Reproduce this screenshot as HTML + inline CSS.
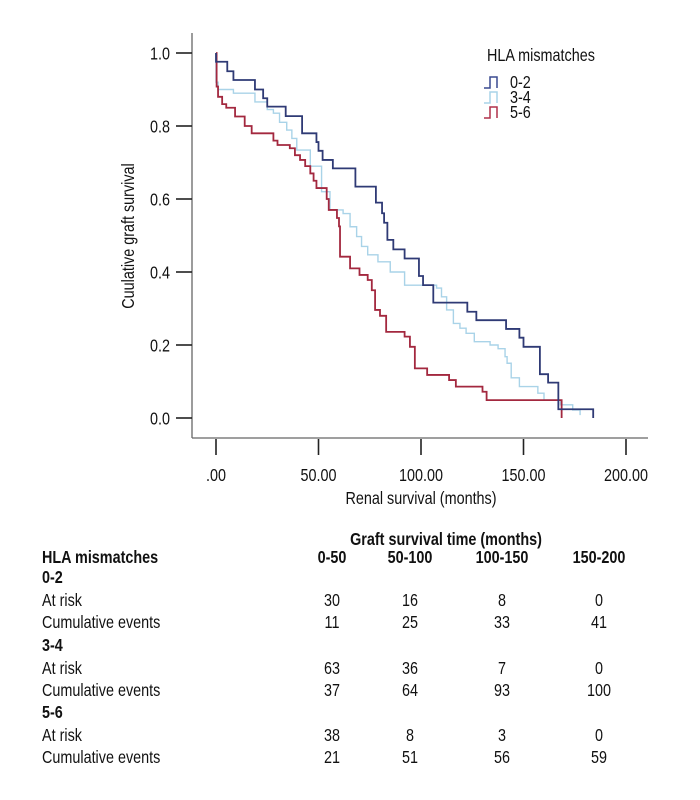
<!DOCTYPE html>
<html><head><meta charset="utf-8"><style>
html,body{margin:0;padding:0;background:#fff;}
svg{display:block;font-family:"Liberation Sans",sans-serif;}
</style></head><body>
<svg id="chart" width="700" height="800" viewBox="0 0 700 800" xmlns="http://www.w3.org/2000/svg">
<g id="axes"></g>
<g id="curves"></g>
<g id="legend">
  <text transform="translate(487,61) scale(0.8,1)" font-size="18" fill="#111">HLA mismatches</text>
  <path d="M484,88 H490 V77 H497 V88" fill="none" stroke="#3a4a90" stroke-width="1.5"/>
  <text transform="translate(510,88) scale(0.8,1)" font-size="18" fill="#111">0-2</text>
  <path d="M484,103 H490 V92 H497 V103" fill="none" stroke="#a9d3e8" stroke-width="1.5"/>
  <text transform="translate(510,103) scale(0.8,1)" font-size="18" fill="#111">3-4</text>
  <path d="M484,118 H490 V107 H497 V118" fill="none" stroke="#b0304a" stroke-width="1.5"/>
  <text transform="translate(510,118) scale(0.8,1)" font-size="18" fill="#111">5-6</text>
</g>
<g id="table" font-size="18" fill="#111"></g>
</svg>
<script>
const xTicks = [0, 50, 100, 150, 200];
const xTickLabels = [".00", "50.00", "100.00", "150.00", "200.00"];
const yTicks = [0, 0.2, 0.4, 0.6, 0.8, 1.0];
const yTickLabels = ["0.0", "0.2", "0.4", "0.6", "0.8", "1.0"];
const blueTimes = [0,5.5,8.5,19,23,25,34,42,49,50,52,57,68,78,81,82,83.6,86.5,92,99,101,106,122.6,127,141.5,148,150,158,162,167,184];
const blueSurv  = [0.976,0.95,0.926,0.90,0.876,0.853,0.827,0.78,0.756,0.732,0.707,0.684,0.634,0.59,0.561,0.535,0.488,0.462,0.437,0.389,0.364,0.316,0.291,0.268,0.244,0.22,0.195,0.12,0.097,0.024,0];
const lightTimes = [0,1,8.5,19,25,28,31,34.5,37,39.4,46,51.5,55.6,62,65.4,68.6,71,74,79,85,92,107.6,110,112.5,115.8,119,122,126,133.7,137.6,141,142,144,148,157,160,168,174,177.6];
const lightSurv  = [0.92,0.90,0.89,0.866,0.845,0.835,0.81,0.789,0.766,0.734,0.69,0.62,0.57,0.56,0.524,0.497,0.47,0.447,0.428,0.40,0.364,0.356,0.332,0.296,0.259,0.246,0.232,0.209,0.2,0.19,0.168,0.15,0.11,0.086,0.068,0.049,0.036,0.022,0.008];
const redTimes = [0,0.3,1,3,5,9.3,14,17.4,28,30,36,38.5,41,43.5,46,47.6,49,54,55,59,60,60.5,65.4,70,74,76,77.6,80,83,92,94.6,97,103,113.7,117,130,132,168.6];
const redSurv  = [1.0,0.908,0.88,0.86,0.85,0.826,0.80,0.78,0.76,0.748,0.739,0.72,0.707,0.69,0.67,0.65,0.63,0.60,0.57,0.548,0.525,0.442,0.41,0.392,0.378,0.35,0.296,0.28,0.236,0.223,0.195,0.136,0.118,0.104,0.086,0.072,0.049,0];

const NS = "http://www.w3.org/2000/svg";
const X0 = 216, XS = 2.05, Y0 = 418, YS = 365;
function xScale(t){ return X0 + t * XS; }
function yScale(s){ return Y0 - s * YS; }

const axes = document.getElementById('axes');
let yAxis = document.createElementNS(NS, 'line');


yAxis.setAttribute('x1', 192); yAxis.setAttribute('x2', 192);
yAxis.setAttribute('y1', 33); yAxis.setAttribute('y2', 438);
yAxis.setAttribute('stroke', '#666'); yAxis.setAttribute('stroke-width', '1.3');
axes.appendChild(yAxis);
let xAxis = document.createElementNS(NS, 'line');


xAxis.setAttribute('x1', 192); xAxis.setAttribute('x2', 648);
xAxis.setAttribute('y1', 438); xAxis.setAttribute('y2', 438);
xAxis.setAttribute('stroke', '#666'); xAxis.setAttribute('stroke-width', '1.3');
axes.appendChild(xAxis);

yTicks.forEach((v, i) => {
  const y = yScale(v);
  const tk = document.createElementNS(NS, 'line');
  
  
  tk.setAttribute('x1', 176); tk.setAttribute('x2', 192);
  tk.setAttribute('y1', y); tk.setAttribute('y2', y);
  tk.setAttribute('stroke', '#222'); tk.setAttribute('stroke-width', '1.6');
  axes.appendChild(tk);
  const tx = document.createElementNS(NS, 'text');
  
  
  tx.setAttribute('transform', 'translate(170,' + (y + 6.5) + ') scale(0.8,1)');
  tx.setAttribute('text-anchor', 'end');
  tx.setAttribute('font-size', '18');
  tx.setAttribute('fill', '#111');
  tx.textContent = yTickLabels[i];
  axes.appendChild(tx);
});
xTicks.forEach((v, i) => {
  const x = xScale(v);
  const tk = document.createElementNS(NS, 'line');
  
  
  tk.setAttribute('x1', x); tk.setAttribute('x2', x);
  tk.setAttribute('y1', 439); tk.setAttribute('y2', 455);
  tk.setAttribute('stroke', '#222'); tk.setAttribute('stroke-width', '1.6');
  axes.appendChild(tk);
  const tx = document.createElementNS(NS, 'text');
  
  
  tx.setAttribute('transform', 'translate(' + x + ',481) scale(0.8,1)');
  tx.setAttribute('text-anchor', 'middle');
  tx.setAttribute('font-size', '18');
  tx.setAttribute('fill', '#111');
  tx.textContent = xTickLabels[i];
  axes.appendChild(tx);
});
let xTitle = document.createElementNS(NS, 'text');


xTitle.setAttribute('transform', 'translate(421,504) scale(0.8,1)');
xTitle.setAttribute('text-anchor', 'middle');
xTitle.setAttribute('font-size', '18');
xTitle.setAttribute('fill', '#111');
xTitle.textContent = 'Renal survival (months)';
axes.appendChild(xTitle);
let yTitle = document.createElementNS(NS, 'text');


yTitle.setAttribute('transform', 'translate(134,236) rotate(-90) scale(0.8,1)');
yTitle.setAttribute('text-anchor', 'middle');
yTitle.setAttribute('font-size', '18');
yTitle.setAttribute('fill', '#111');
yTitle.textContent = 'Cuulative graft survival';
axes.appendChild(yTitle);

function stepPath(times, surv, startAtOne){
  let d = '';
  if (startAtOne) d = 'M' + xScale(times[0]) + ',' + yScale(1) + ' V' + yScale(surv[0]);
  else d = 'M' + xScale(times[0]) + ',' + yScale(surv[0]);
  for (let i = 1; i < times.length; i++){
    d += ' H' + xScale(times[i]) + ' V' + yScale(surv[i]);
  }
  return d;
}
const curves = document.getElementById('curves');
function addCurve(name, times, surv, color, w, startAtOne){
  const p = document.createElementNS(NS, 'path');
  
  
  p.setAttribute('d', stepPath(times, surv, startAtOne));
  p.setAttribute('fill', 'none');
  p.setAttribute('stroke', color);
  p.setAttribute('stroke-width', w);
  curves.appendChild(p);
}
addCurve('curve-3-4', lightTimes, lightSurv, '#a9d3e8', 1.4, true);
addCurve('curve-5-6', redTimes, redSurv, '#a3283f', 1.8, false);
addCurve('curve-0-2', blueTimes, blueSurv, '#2f3a75', 1.8, true);

const table = document.getElementById('table');
function addText(name, str, x, y, anchor, bold){
  const t = document.createElementNS(NS, 'text');
  
  
  t.setAttribute('transform', 'translate(' + x + ',' + y + ') scale(0.8,1)');
  t.setAttribute('text-anchor', anchor);
  if (bold) t.setAttribute('font-weight', 'bold');
  t.textContent = str;
  table.appendChild(t);
}
addText('table-title', 'Graft survival time (months)', 446, 545, 'middle', true);
const colX = [332, 410, 502, 599];
const colHeads = ['0-50', '50-100', '100-150', '150-200'];
addText('table-header-label', 'HLA mismatches', 42, 563, 'start', true);
colHeads.forEach((h, i) => addText('table-col-header', h, colX[i], 563, 'middle', true));
const groups = [
  {g:'0-2', risk:[30,16,8,0], ev:[11,25,33,41], y:583},
  {g:'3-4', risk:[63,36,7,0], ev:[37,64,93,100], y:651},
  {g:'5-6', risk:[38,8,3,0], ev:[21,51,56,59], y:718}
];
groups.forEach(gr => {
  addText('group-label-' + gr.g, gr.g, 42, gr.y, 'start', true);
  addText('at-risk-label', 'At risk', 42, gr.y + 23, 'start', false);
  addText('cumulative-events-label', 'Cumulative events', 42, gr.y + 45, 'start', false);
  gr.risk.forEach((v, i) => addText('at-risk-value', String(v), colX[i], gr.y + 23, 'middle', false));
  gr.ev.forEach((v, i) => addText('cumulative-events-value', String(v), colX[i], gr.y + 45, 'middle', false));
});
</script>
</body></html>
